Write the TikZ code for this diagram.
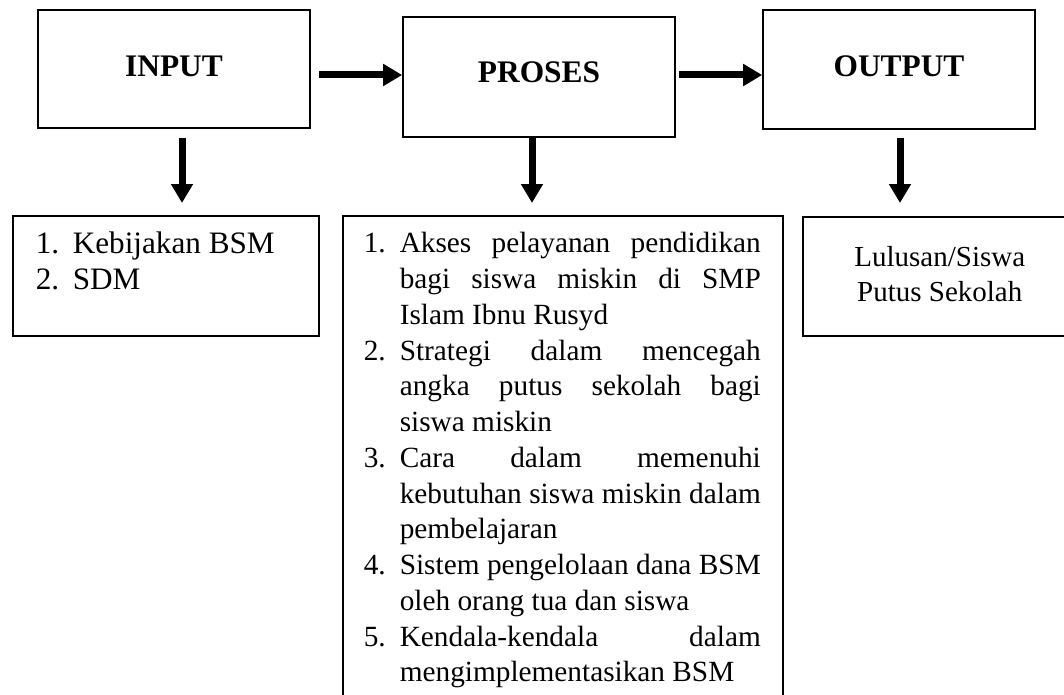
\documentclass[tikz,border=0pt]{standalone}
\usepackage{fontspec}
\setmainfont{Liberation Serif}
\usetikzlibrary{arrows.meta}
\newcommand{\numbx}[2]{\makebox[#1][l]{#2}}
\newcommand{\justln}[1]{\makebox[361pt][s]{#1}}
\begin{document}
\begin{tikzpicture}[x=1pt,y=-1pt,
  head/.style={draw,line width=1.6pt,inner sep=0pt,minimum width=272pt,
    font=\fontsize{31.4}{36}\selectfont\bfseries,text depth=0pt},
  listbox/.style={draw,line width=1.6pt,inner sep=0pt,anchor=north west},
  arr/.style={line width=7pt,-{Triangle[width=21pt,length=19pt]}}]
\useasboundingbox (0,0) rectangle (1064,695);
% top boxes
\node[head,minimum height=118pt,text height=16pt] (input) at (174,69) {INPUT};
\node[head,minimum height=120pt,text height=12pt] (proses) at (539,77) {PROSES};
\node[head,minimum height=119pt,text height=15pt] (output) at (899,69.5) {OUTPUT};
% lower boxes
\node[listbox] (kb) at (12,215) {\begin{minipage}[t][120pt][t]{306pt}
\fontsize{31.2}{36}\selectfont
\vspace*{12pt}
\hspace*{23pt}\numbx{37pt}{1.}Kebijakan BSM\strut\\
\hspace*{23pt}\numbx{37pt}{2.}SDM\strut
\end{minipage}};
\node[listbox] (pr) at (342,215) {\begin{minipage}[t][500pt][t]{440pt}
\fontsize{29.3}{35.75}\selectfont
\vspace*{12pt}
\hspace*{21pt}\numbx{36pt}{1.}\justln{Akses pelayanan pendidikan}\strut\\
\hspace*{57pt}\justln{bagi siswa miskin di SMP}\strut\\
\hspace*{57pt}Islam Ibnu Rusyd\strut\\
\hspace*{21pt}\numbx{36pt}{2.}\justln{Strategi dalam mencegah}\strut\\
\hspace*{57pt}\justln{angka putus sekolah bagi}\strut\\
\hspace*{57pt}siswa miskin\strut\\
\hspace*{21pt}\numbx{36pt}{3.}\justln{Cara dalam memenuhi}\strut\\
\hspace*{57pt}\justln{kebutuhan siswa miskin dalam}\strut\\
\hspace*{57pt}pembelajaran\strut\\
\hspace*{21pt}\numbx{36pt}{4.}\justln{Sistem pengelolaan dana BSM}\strut\\
\hspace*{57pt}oleh orang tua dan siswa\strut\\
\hspace*{21pt}\numbx{36pt}{5.}\justln{Kendala-kendala dalam}\strut\\
\hspace*{57pt}mengimplementasikan BSM\strut
\end{minipage}};
\node[listbox] (ls) at (802,216) {\begin{minipage}[t][119pt][t]{274pt}
\fontsize{29}{35}\selectfont\centering
\vspace*{25.5pt}
Lulusan/Siswa\strut\\
Putus Sekolah\strut
\end{minipage}};
% connectors
\coordinate (a1) at ([xshift=8pt,yshift=-6pt]input.east);
\draw[arr] (a1) -- (a1 -| proses.west);
\coordinate (a2) at ([xshift=3pt,yshift=2pt]proses.east);
\draw[arr] (a2) -- (a2 -| output.west);
\coordinate (b1) at ([xshift=8pt,yshift=-9pt]input.south);
\draw[arr,shorten >=12pt] (b1) -- (b1 |- kb.north);
\coordinate (b2) at ([xshift=-7pt]proses.south);
\draw[arr,shorten >=12pt] (b2) -- (b2 |- pr.north);
\coordinate (b3) at ([xshift=1pt,yshift=-8pt]output.south);
\draw[arr,shorten >=13pt] (b3) -- (b3 |- ls.north);
\end{tikzpicture}
\end{document}
